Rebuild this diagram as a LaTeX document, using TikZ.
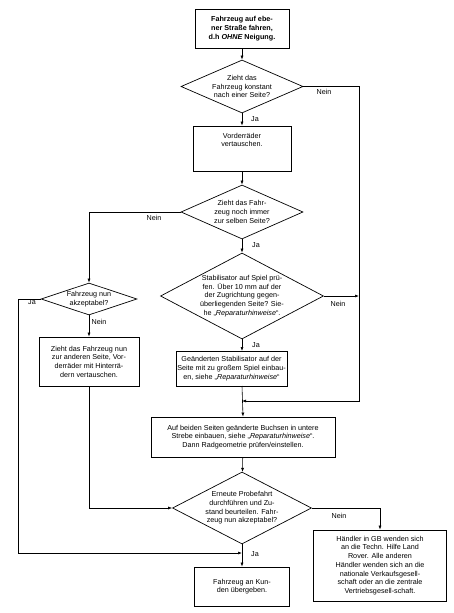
\documentclass[tikz,border=0pt]{standalone}
\usepackage{fontspec}
\setmainfont{Liberation Sans}
\usetikzlibrary{shapes.geometric,arrows.meta}
\begin{document}
\begin{tikzpicture}[x=1pt,y=-1pt,
  txt/.style={font=\fontsize{7.2}{8.7}\selectfont, align=center, inner sep=0pt},
  box/.style={draw, line width=0.7pt, txt},
  dia/.style={draw, diamond, line width=0.7pt, inner sep=0pt},
  arr/.style={-{Latex[length=4pt,width=3pt]}, line width=0.6pt},
  lbl/.style={txt}]
\useasboundingbox (0,0) rectangle (453,613);
% boxes
\node[box, minimum width=94, minimum height=39] (b1) at (242,28.5)
  {\bfseries Fahrzeug auf ebe-\\\bfseries ner Straße fahren,\\\bfseries d.h \textit{OHNE} Neigung.};
\node[dia, minimum width=122, minimum height=53,
  label={[txt]center:Zieht das\\Fahrzeug konstant\\nach einer Seite?}] (d1) at (242,86.5) {};
\node[box, minimum width=98, minimum height=45,
  label={[txt,anchor=north,yshift=-7pt]north:Vorderräder\\vertauschen.}] (b2) at (242,148.5) {};
\node[dia, minimum width=122, minimum height=54,
  label={[txt]center:Zieht das Fahr-\\zeug noch immer\\zur selben Seite?}] (d2) at (242,212) {};
\node[dia, minimum width=96, minimum height=32,
  label={[txt]center:Fahrzeug nun\\akzeptabel?}] (d3) at (89,299) {};
\node[box, minimum width=100, minimum height=49] (b4) at (89,361.5)
  {Zieht das Fahrzeug nun\\zur anderen Seite, Vor-\\derräder mit Hinterrä-\\dern vertauschen.};
\node[dia, minimum width=163, minimum height=86,
  label={[txt]center:Stabilisator auf Spiel prü-\\fen. Über 10 mm auf der\\der Zugrichtung gegen-\\überliegenden Seite? Sie-\\he „\textit{Reparaturhinweise}“.}] (d4) at (242,296) {};
\node[box, minimum width=111, minimum height=35] (b5) at (231.5,368.5)
  {Geänderten Stabilisator auf der\\Seite mit zu großem Spiel einbau-\\en, siehe „\textit{Reparaturhinweise}“};
\node[box, minimum width=184, minimum height=40] (b6) at (243,437)
  {Auf beiden Seiten geänderte Buchsen in untere\\Strebe einbauen, siehe „\textit{Reparaturhinweise}“.\\Dann Radgeometrie prüfen/einstellen.};
\node[dia, minimum width=139, minimum height=72,
  label={[txt]center:Erneute Probefahrt\\durchführen und Zu-\\stand beurteilen. Fahr-\\zeug nun akzeptabel?}] (d5) at (242,508) {};
\node[box, minimum width=95, minimum height=39] (b8) at (242,586.5)
  {Fahrzeug an Kun-\\den übergeben.};
\node[box, minimum width=133, minimum height=71] (b7) at (380,565.5)
  {Händler in GB wenden sich\\an die Techn. Hilfe Land\\Rover. Alle anderen\\Händler wenden sich an die\\nationale Verkaufsgesell-\\schaft oder an die zentrale\\Vertriebsgesell-schaft.};
% coordinates
\coordinate (rc) at (359,401);
\coordinate (jc) at (242,401);
\coordinate (rs) at (359,296);
\coordinate (lc) at (18,553);
\coordinate (jb) at (242,553);
\coordinate (b5t) at (242,351);
\coordinate (b5b) at (242,386);
% connectors
\draw[arr] (b1) -- (d1);
\draw[arr] (d1) -- (b2);
\draw[arr] (d1.east) -| (rc) -- (jc);
\draw[arr] (d4.east) -- (rs);
\draw[arr] (b2) -- (d2);
\draw[arr] (d2.west) -| (d3.north);
\draw[arr] (d2) -- (d4);
\draw[arr] (d4.south) -- (b5t);
\draw[arr] (b5b) -- (b6.north);
\draw[arr] (d3.south) -- (b4.north);
\draw[arr] (d3.west) -| (lc) -- (jb);
\draw[arr] (b4.south) |- (d5.west);
\draw[arr] (b6) -- (d5);
\draw[arr] (d5) -- (b8);
\draw[arr] (d5.east) -| (b7.north);
% labels
\node[lbl] (l1) at (324,92) {Nein};
\node[lbl] (l2) at (255,119) {Ja};
\node[lbl] (l3) at (154,218) {Nein};
\node[lbl] (l4) at (256,245) {Ja};
\node[lbl] (l5) at (32,302) {Ja};
\node[lbl] (l6) at (99,322) {Nein};
\node[lbl] (l7) at (338,304) {Nein};
\node[lbl] (l8) at (256,345) {Ja};
\node[lbl] (l9) at (339,516) {Nein};
\node[lbl] (l10) at (255,554) {Ja};
\end{tikzpicture}
\end{document}
